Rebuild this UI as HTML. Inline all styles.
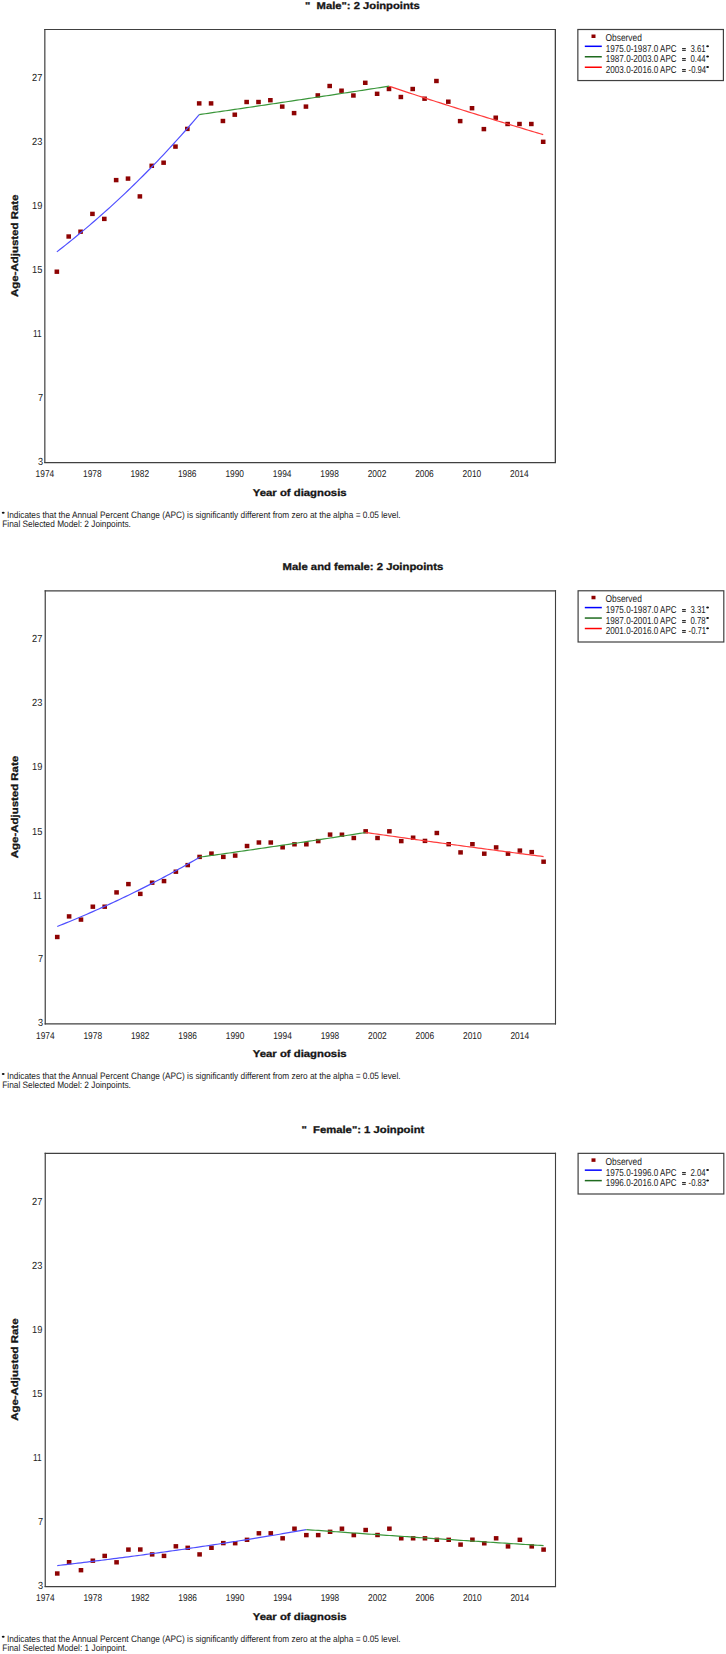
<!DOCTYPE html>
<html><head><meta charset="utf-8"><style>
html,body{margin:0;padding:0;background:#fff;}
body{width:726px;height:1654px;overflow:hidden;}
svg{display:block;font-family:"Liberation Sans",sans-serif;text-rendering:geometricPrecision;}
</style></head><body>
<svg width="726" height="1654" viewBox="0 0 726 1654">
<rect width="726" height="1654" fill="#fff"/>
<text x="305.00" y="8.70" font-size="10.0" textLength="114.80" lengthAdjust="spacingAndGlyphs" font-weight="bold" stroke="#151515" stroke-width="0.3" fill="#151515" style="white-space:pre">&quot;  Male&quot;: 2 Joinpoints</text>
<path d="M44.83 28.93V463.12" stroke="#404040" stroke-width="1.2"/>
<path d="M555.35 28.93V463.12" stroke="#404040" stroke-width="1.3"/>
<path d="M44.23 29.50H556.00" stroke="#404040" stroke-width="1.15"/>
<path d="M44.23 462.55H556.00" stroke="#404040" stroke-width="1.15"/>
<text x="37.90" y="464.65" font-size="10.3" textLength="5.10" lengthAdjust="spacingAndGlyphs" fill="#222" style="white-space:pre">3</text>
<text x="37.90" y="401.05" font-size="10.3" textLength="5.10" lengthAdjust="spacingAndGlyphs" fill="#222" style="white-space:pre">7</text>
<text x="33.00" y="337.25" font-size="10.3" textLength="8.70" lengthAdjust="spacingAndGlyphs" fill="#222" style="white-space:pre">11</text>
<text x="32.10" y="273.35" font-size="10.3" textLength="10.30" lengthAdjust="spacingAndGlyphs" fill="#222" style="white-space:pre">15</text>
<text x="32.10" y="208.55" font-size="10.3" textLength="10.30" lengthAdjust="spacingAndGlyphs" fill="#222" style="white-space:pre">19</text>
<text x="32.10" y="144.55" font-size="10.3" textLength="10.30" lengthAdjust="spacingAndGlyphs" fill="#222" style="white-space:pre">23</text>
<text x="32.10" y="80.55" font-size="10.3" textLength="10.30" lengthAdjust="spacingAndGlyphs" fill="#222" style="white-space:pre">27</text>
<text x="35.59" y="477.35" font-size="9.9" textLength="18.60" lengthAdjust="spacingAndGlyphs" fill="#222" style="white-space:pre">1974</text>
<text x="83.04" y="477.35" font-size="9.9" textLength="18.60" lengthAdjust="spacingAndGlyphs" fill="#222" style="white-space:pre">1978</text>
<text x="130.48" y="477.35" font-size="9.9" textLength="18.60" lengthAdjust="spacingAndGlyphs" fill="#222" style="white-space:pre">1982</text>
<text x="177.93" y="477.35" font-size="9.9" textLength="18.60" lengthAdjust="spacingAndGlyphs" fill="#222" style="white-space:pre">1986</text>
<text x="225.38" y="477.35" font-size="9.9" textLength="18.60" lengthAdjust="spacingAndGlyphs" fill="#222" style="white-space:pre">1990</text>
<text x="272.83" y="477.35" font-size="9.9" textLength="18.60" lengthAdjust="spacingAndGlyphs" fill="#222" style="white-space:pre">1994</text>
<text x="320.28" y="477.35" font-size="9.9" textLength="18.60" lengthAdjust="spacingAndGlyphs" fill="#222" style="white-space:pre">1998</text>
<text x="367.72" y="477.35" font-size="9.9" textLength="18.60" lengthAdjust="spacingAndGlyphs" fill="#222" style="white-space:pre">2002</text>
<text x="415.17" y="477.35" font-size="9.9" textLength="18.60" lengthAdjust="spacingAndGlyphs" fill="#222" style="white-space:pre">2006</text>
<text x="462.62" y="477.35" font-size="9.9" textLength="18.60" lengthAdjust="spacingAndGlyphs" fill="#222" style="white-space:pre">2010</text>
<text x="510.07" y="477.35" font-size="9.9" textLength="18.60" lengthAdjust="spacingAndGlyphs" fill="#222" style="white-space:pre">2014</text>
<text x="252.80" y="495.95" font-size="9.9" textLength="93.80" lengthAdjust="spacingAndGlyphs" font-weight="bold" stroke="#151515" stroke-width="0.3" fill="#151515" style="white-space:pre">Year of diagnosis</text>
<text transform="translate(18.10,296.93) rotate(-90)" x="-0.00" y="0" font-size="9.8" textLength="102.40" lengthAdjust="spacingAndGlyphs" font-weight="bold" stroke="#151515" stroke-width="0.3" fill="#151515">Age-Adjusted Rate</text>
<rect x="54.55" y="269.50" width="4.6" height="4.4" fill="#8e0303"/>
<rect x="66.41" y="234.30" width="4.6" height="4.4" fill="#8e0303"/>
<rect x="78.27" y="229.50" width="4.6" height="4.4" fill="#8e0303"/>
<rect x="90.14" y="211.70" width="4.6" height="4.4" fill="#8e0303"/>
<rect x="102.00" y="216.70" width="4.6" height="4.4" fill="#8e0303"/>
<rect x="113.86" y="177.90" width="4.6" height="4.4" fill="#8e0303"/>
<rect x="125.72" y="176.40" width="4.6" height="4.4" fill="#8e0303"/>
<rect x="137.58" y="194.20" width="4.6" height="4.4" fill="#8e0303"/>
<rect x="149.45" y="163.60" width="4.6" height="4.4" fill="#8e0303"/>
<rect x="161.31" y="160.50" width="4.6" height="4.4" fill="#8e0303"/>
<rect x="173.17" y="144.40" width="4.6" height="4.4" fill="#8e0303"/>
<rect x="185.03" y="126.70" width="4.6" height="4.4" fill="#8e0303"/>
<rect x="196.89" y="101.20" width="4.6" height="4.4" fill="#8e0303"/>
<rect x="208.76" y="101.20" width="4.6" height="4.4" fill="#8e0303"/>
<rect x="220.62" y="118.80" width="4.6" height="4.4" fill="#8e0303"/>
<rect x="232.48" y="112.50" width="4.6" height="4.4" fill="#8e0303"/>
<rect x="244.34" y="99.80" width="4.6" height="4.4" fill="#8e0303"/>
<rect x="256.20" y="99.80" width="4.6" height="4.4" fill="#8e0303"/>
<rect x="268.07" y="98.00" width="4.6" height="4.4" fill="#8e0303"/>
<rect x="279.93" y="104.40" width="4.6" height="4.4" fill="#8e0303"/>
<rect x="291.79" y="110.90" width="4.6" height="4.4" fill="#8e0303"/>
<rect x="303.65" y="104.40" width="4.6" height="4.4" fill="#8e0303"/>
<rect x="315.51" y="93.20" width="4.6" height="4.4" fill="#8e0303"/>
<rect x="327.38" y="83.80" width="4.6" height="4.4" fill="#8e0303"/>
<rect x="339.24" y="88.50" width="4.6" height="4.4" fill="#8e0303"/>
<rect x="351.10" y="93.30" width="4.6" height="4.4" fill="#8e0303"/>
<rect x="362.96" y="80.60" width="4.6" height="4.4" fill="#8e0303"/>
<rect x="374.82" y="91.60" width="4.6" height="4.4" fill="#8e0303"/>
<rect x="386.69" y="86.80" width="4.6" height="4.4" fill="#8e0303"/>
<rect x="398.55" y="94.80" width="4.6" height="4.4" fill="#8e0303"/>
<rect x="410.41" y="86.80" width="4.6" height="4.4" fill="#8e0303"/>
<rect x="422.27" y="96.50" width="4.6" height="4.4" fill="#8e0303"/>
<rect x="434.13" y="78.80" width="4.6" height="4.4" fill="#8e0303"/>
<rect x="446.00" y="99.50" width="4.6" height="4.4" fill="#8e0303"/>
<rect x="457.86" y="118.90" width="4.6" height="4.4" fill="#8e0303"/>
<rect x="469.72" y="106.00" width="4.6" height="4.4" fill="#8e0303"/>
<rect x="481.58" y="126.90" width="4.6" height="4.4" fill="#8e0303"/>
<rect x="493.44" y="115.50" width="4.6" height="4.4" fill="#8e0303"/>
<rect x="505.31" y="121.80" width="4.6" height="4.4" fill="#8e0303"/>
<rect x="517.17" y="121.80" width="4.6" height="4.4" fill="#8e0303"/>
<rect x="529.03" y="121.80" width="4.6" height="4.4" fill="#8e0303"/>
<rect x="540.89" y="139.60" width="4.6" height="4.4" fill="#8e0303"/>
<polyline points="56.85,251.85 59.82,249.55 62.78,247.22 65.75,244.88 68.71,242.51 71.68,240.12 74.64,237.71 77.61,235.28 80.57,232.83 83.54,230.36 86.50,227.86 89.47,225.34 92.44,222.80 95.40,220.24 98.37,217.65 101.33,215.05 104.30,212.41 107.26,209.76 110.23,207.08 113.19,204.38 116.16,201.65 119.13,198.90 122.09,196.12 125.06,193.32 128.02,190.50 130.99,187.65 133.95,184.77 136.92,181.87 139.88,178.94 142.85,175.99 145.81,173.01 148.78,170.00 151.75,166.97 154.71,163.91 157.68,160.82 160.64,157.71 163.61,154.56 166.57,151.39 169.54,148.20 172.50,144.97 175.47,141.71 178.44,138.43 181.40,135.11 184.37,131.77 187.33,128.40 190.30,124.99 193.26,121.56 196.23,118.10 199.19,114.60" fill="none" stroke="#4f4fff" stroke-width="1.2"/>
<polyline points="199.19,114.60 202.16,114.17 205.12,113.74 208.09,113.31 211.06,112.88 214.02,112.45 216.99,112.02 219.95,111.59 222.92,111.16 225.88,110.72 228.85,110.29 231.81,109.86 234.78,109.42 237.75,108.99 240.71,108.55 243.68,108.12 246.64,107.68 249.61,107.25 252.57,106.81 255.54,106.37 258.50,105.94 261.47,105.50 264.44,105.06 267.40,104.62 270.37,104.18 273.33,103.74 276.30,103.30 279.26,102.86 282.23,102.42 285.19,101.97 288.16,101.53 291.12,101.09 294.09,100.65 297.06,100.20 300.02,99.76 302.99,99.31 305.95,98.87 308.92,98.42 311.88,97.98 314.85,97.53 317.81,97.08 320.78,96.63 323.75,96.19 326.71,95.74 329.68,95.29 332.64,94.84 335.61,94.39 338.57,93.94 341.54,93.49 344.50,93.03 347.47,92.58 350.43,92.13 353.40,91.68 356.37,91.22 359.33,90.77 362.30,90.31 365.26,89.86 368.23,89.40 371.19,88.95 374.16,88.49 377.12,88.03 380.09,87.58 383.06,87.12 386.02,86.66 388.99,86.20" fill="none" stroke="#3a963a" stroke-width="1.2"/>
<polyline points="388.99,86.20 391.95,87.19 394.92,88.17 397.88,89.15 400.85,90.13 403.81,91.11 406.78,92.09 409.74,93.06 412.71,94.03 415.68,95.00 418.64,95.97 421.61,96.93 424.57,97.89 427.54,98.85 430.50,99.81 433.47,100.77 436.43,101.72 439.40,102.67 442.37,103.62 445.33,104.57 448.30,105.51 451.26,106.45 454.23,107.39 457.19,108.33 460.16,109.27 463.12,110.20 466.09,111.13 469.05,112.06 472.02,112.99 474.99,113.91 477.95,114.84 480.92,115.76 483.88,116.67 486.85,117.59 489.81,118.50 492.78,119.42 495.74,120.33 498.71,121.23 501.68,122.14 504.64,123.04 507.61,123.95 510.57,124.84 513.54,125.74 516.50,126.64 519.47,127.53 522.43,128.42 525.40,129.31 528.36,130.20 531.33,131.08 534.30,131.96 537.26,132.84 540.23,133.72 543.19,134.60" fill="none" stroke="#ff3c3c" stroke-width="1.2"/>
<rect x="577.85" y="29.50" width="145.55" height="51.05" fill="none" stroke="#404040" stroke-width="1.2"/>
<rect x="591.5" y="34.50" width="4" height="3.5" fill="#8f0000"/>
<text x="605.50" y="40.80" font-size="10.1" textLength="36.40" lengthAdjust="spacingAndGlyphs" fill="#222" style="white-space:pre">Observed</text>
<line x1="584.8" y1="46.30" x2="601.8" y2="46.30" stroke="#0000ff" stroke-width="1.5"/>
<text x="605.80" y="51.95" font-size="10.1" textLength="52.40" lengthAdjust="spacingAndGlyphs" fill="#222" style="white-space:pre">1975.0-1987.0</text>
<text x="660.10" y="51.95" font-size="10.1" textLength="16.30" lengthAdjust="spacingAndGlyphs" fill="#222" style="white-space:pre">APC</text>
<rect x="682.1" y="48.00" width="3.7" height="1.1" fill="#2a2a2a"/><rect x="682.1" y="49.80" width="3.7" height="1.1" fill="#2a2a2a"/>
<text x="690.40" y="51.95" font-size="10.1" textLength="15.20" lengthAdjust="spacingAndGlyphs" fill="#222" style="white-space:pre">3.61</text>
<ellipse cx="707.6" cy="46.15" rx="1.4" ry="1.0" fill="#111"/>
<line x1="584.8" y1="56.77" x2="601.8" y2="56.77" stroke="#1f6b1f" stroke-width="1.5"/>
<text x="605.80" y="62.42" font-size="10.1" textLength="52.40" lengthAdjust="spacingAndGlyphs" fill="#222" style="white-space:pre">1987.0-2003.0</text>
<text x="660.10" y="62.42" font-size="10.1" textLength="16.30" lengthAdjust="spacingAndGlyphs" fill="#222" style="white-space:pre">APC</text>
<rect x="682.1" y="58.00" width="3.7" height="1.1" fill="#2a2a2a"/><rect x="682.1" y="59.80" width="3.7" height="1.1" fill="#2a2a2a"/>
<text x="690.40" y="62.42" font-size="10.1" textLength="15.20" lengthAdjust="spacingAndGlyphs" fill="#222" style="white-space:pre">0.44</text>
<ellipse cx="707.6" cy="56.62" rx="1.4" ry="1.0" fill="#111"/>
<line x1="584.8" y1="67.24" x2="601.8" y2="67.24" stroke="#ff0000" stroke-width="1.5"/>
<text x="605.80" y="72.89" font-size="10.1" textLength="52.40" lengthAdjust="spacingAndGlyphs" fill="#222" style="white-space:pre">2003.0-2016.0</text>
<text x="660.10" y="72.89" font-size="10.1" textLength="16.30" lengthAdjust="spacingAndGlyphs" fill="#222" style="white-space:pre">APC</text>
<rect x="682.1" y="69.00" width="3.7" height="1.1" fill="#2a2a2a"/><rect x="682.1" y="70.80" width="3.7" height="1.1" fill="#2a2a2a"/>
<text x="688.60" y="72.89" font-size="10.1" textLength="17.50" lengthAdjust="spacingAndGlyphs" fill="#222" style="white-space:pre">-0.94</text>
<ellipse cx="707.6" cy="67.09" rx="1.4" ry="1.0" fill="#111"/>
<ellipse cx="3.2" cy="512.65" rx="1.45" ry="1.0" fill="#111"/>
<text x="6.90" y="517.75" font-size="9.3" textLength="393.70" lengthAdjust="spacingAndGlyphs" fill="#222" style="white-space:pre">Indicates that the Annual Percent Change (APC) is significantly different from zero at the alpha = 0.05 level.</text>
<text x="2.30" y="526.50" font-size="9.3" textLength="128.60" lengthAdjust="spacingAndGlyphs" fill="#222" style="white-space:pre">Final Selected Model: 2 Joinpoints.</text>
<text x="282.60" y="569.98" font-size="10.0" textLength="160.70" lengthAdjust="spacingAndGlyphs" font-weight="bold" stroke="#151515" stroke-width="0.3" fill="#151515" style="white-space:pre">Male and female: 2 Joinpoints</text>
<path d="M45.24 590.15V1024.47" stroke="#404040" stroke-width="1.2"/>
<path d="M555.50 590.15V1024.47" stroke="#404040" stroke-width="1.1"/>
<path d="M44.64 590.78H556.05" stroke="#404040" stroke-width="1.25"/>
<path d="M44.64 1023.87H556.05" stroke="#404040" stroke-width="1.2"/>
<text x="37.90" y="1025.97" font-size="10.3" textLength="5.10" lengthAdjust="spacingAndGlyphs" fill="#222" style="white-space:pre">3</text>
<text x="37.90" y="962.37" font-size="10.3" textLength="5.10" lengthAdjust="spacingAndGlyphs" fill="#222" style="white-space:pre">7</text>
<text x="33.00" y="898.57" font-size="10.3" textLength="8.70" lengthAdjust="spacingAndGlyphs" fill="#222" style="white-space:pre">11</text>
<text x="32.10" y="834.67" font-size="10.3" textLength="10.30" lengthAdjust="spacingAndGlyphs" fill="#222" style="white-space:pre">15</text>
<text x="32.10" y="769.87" font-size="10.3" textLength="10.30" lengthAdjust="spacingAndGlyphs" fill="#222" style="white-space:pre">19</text>
<text x="32.10" y="705.87" font-size="10.3" textLength="10.30" lengthAdjust="spacingAndGlyphs" fill="#222" style="white-space:pre">23</text>
<text x="32.10" y="641.87" font-size="10.3" textLength="10.30" lengthAdjust="spacingAndGlyphs" fill="#222" style="white-space:pre">27</text>
<text x="35.99" y="1038.67" font-size="9.9" textLength="18.60" lengthAdjust="spacingAndGlyphs" fill="#222" style="white-space:pre">1974</text>
<text x="83.44" y="1038.67" font-size="9.9" textLength="18.60" lengthAdjust="spacingAndGlyphs" fill="#222" style="white-space:pre">1978</text>
<text x="130.88" y="1038.67" font-size="9.9" textLength="18.60" lengthAdjust="spacingAndGlyphs" fill="#222" style="white-space:pre">1982</text>
<text x="178.33" y="1038.67" font-size="9.9" textLength="18.60" lengthAdjust="spacingAndGlyphs" fill="#222" style="white-space:pre">1986</text>
<text x="225.78" y="1038.67" font-size="9.9" textLength="18.60" lengthAdjust="spacingAndGlyphs" fill="#222" style="white-space:pre">1990</text>
<text x="273.23" y="1038.67" font-size="9.9" textLength="18.60" lengthAdjust="spacingAndGlyphs" fill="#222" style="white-space:pre">1994</text>
<text x="320.68" y="1038.67" font-size="9.9" textLength="18.60" lengthAdjust="spacingAndGlyphs" fill="#222" style="white-space:pre">1998</text>
<text x="368.12" y="1038.67" font-size="9.9" textLength="18.60" lengthAdjust="spacingAndGlyphs" fill="#222" style="white-space:pre">2002</text>
<text x="415.57" y="1038.67" font-size="9.9" textLength="18.60" lengthAdjust="spacingAndGlyphs" fill="#222" style="white-space:pre">2006</text>
<text x="463.02" y="1038.67" font-size="9.9" textLength="18.60" lengthAdjust="spacingAndGlyphs" fill="#222" style="white-space:pre">2010</text>
<text x="510.47" y="1038.67" font-size="9.9" textLength="18.60" lengthAdjust="spacingAndGlyphs" fill="#222" style="white-space:pre">2014</text>
<text x="252.80" y="1057.27" font-size="9.9" textLength="93.80" lengthAdjust="spacingAndGlyphs" font-weight="bold" stroke="#151515" stroke-width="0.3" fill="#151515" style="white-space:pre">Year of diagnosis</text>
<text transform="translate(18.10,858.23) rotate(-90)" x="-0.00" y="0" font-size="9.8" textLength="102.40" lengthAdjust="spacingAndGlyphs" font-weight="bold" stroke="#151515" stroke-width="0.3" fill="#151515">Age-Adjusted Rate</text>
<rect x="54.95" y="934.80" width="4.6" height="4.4" fill="#8e0303"/>
<rect x="66.81" y="914.20" width="4.6" height="4.4" fill="#8e0303"/>
<rect x="78.67" y="917.40" width="4.6" height="4.4" fill="#8e0303"/>
<rect x="90.54" y="904.50" width="4.6" height="4.4" fill="#8e0303"/>
<rect x="102.40" y="904.50" width="4.6" height="4.4" fill="#8e0303"/>
<rect x="114.26" y="890.20" width="4.6" height="4.4" fill="#8e0303"/>
<rect x="126.12" y="881.90" width="4.6" height="4.4" fill="#8e0303"/>
<rect x="137.98" y="891.70" width="4.6" height="4.4" fill="#8e0303"/>
<rect x="149.85" y="880.50" width="4.6" height="4.4" fill="#8e0303"/>
<rect x="161.71" y="878.90" width="4.6" height="4.4" fill="#8e0303"/>
<rect x="173.57" y="869.50" width="4.6" height="4.4" fill="#8e0303"/>
<rect x="185.43" y="862.90" width="4.6" height="4.4" fill="#8e0303"/>
<rect x="197.29" y="854.70" width="4.6" height="4.4" fill="#8e0303"/>
<rect x="209.16" y="851.40" width="4.6" height="4.4" fill="#8e0303"/>
<rect x="221.02" y="854.70" width="4.6" height="4.4" fill="#8e0303"/>
<rect x="232.88" y="853.40" width="4.6" height="4.4" fill="#8e0303"/>
<rect x="244.74" y="843.80" width="4.6" height="4.4" fill="#8e0303"/>
<rect x="256.60" y="840.30" width="4.6" height="4.4" fill="#8e0303"/>
<rect x="268.47" y="840.30" width="4.6" height="4.4" fill="#8e0303"/>
<rect x="280.33" y="845.10" width="4.6" height="4.4" fill="#8e0303"/>
<rect x="292.19" y="842.10" width="4.6" height="4.4" fill="#8e0303"/>
<rect x="304.05" y="842.10" width="4.6" height="4.4" fill="#8e0303"/>
<rect x="315.91" y="838.90" width="4.6" height="4.4" fill="#8e0303"/>
<rect x="327.78" y="832.40" width="4.6" height="4.4" fill="#8e0303"/>
<rect x="339.64" y="832.50" width="4.6" height="4.4" fill="#8e0303"/>
<rect x="351.50" y="835.80" width="4.6" height="4.4" fill="#8e0303"/>
<rect x="363.36" y="829.10" width="4.6" height="4.4" fill="#8e0303"/>
<rect x="375.22" y="835.80" width="4.6" height="4.4" fill="#8e0303"/>
<rect x="387.09" y="829.10" width="4.6" height="4.4" fill="#8e0303"/>
<rect x="398.95" y="838.90" width="4.6" height="4.4" fill="#8e0303"/>
<rect x="410.81" y="835.50" width="4.6" height="4.4" fill="#8e0303"/>
<rect x="422.67" y="838.70" width="4.6" height="4.4" fill="#8e0303"/>
<rect x="434.53" y="830.80" width="4.6" height="4.4" fill="#8e0303"/>
<rect x="446.40" y="842.00" width="4.6" height="4.4" fill="#8e0303"/>
<rect x="458.26" y="850.20" width="4.6" height="4.4" fill="#8e0303"/>
<rect x="470.12" y="842.00" width="4.6" height="4.4" fill="#8e0303"/>
<rect x="481.98" y="851.50" width="4.6" height="4.4" fill="#8e0303"/>
<rect x="493.84" y="845.20" width="4.6" height="4.4" fill="#8e0303"/>
<rect x="505.71" y="851.50" width="4.6" height="4.4" fill="#8e0303"/>
<rect x="517.57" y="848.40" width="4.6" height="4.4" fill="#8e0303"/>
<rect x="529.43" y="849.90" width="4.6" height="4.4" fill="#8e0303"/>
<rect x="541.29" y="859.50" width="4.6" height="4.4" fill="#8e0303"/>
<polyline points="57.25,926.50 60.22,925.31 63.18,924.12 66.15,922.91 69.11,921.70 72.08,920.47 75.04,919.24 78.01,918.00 80.97,916.74 83.94,915.48 86.91,914.20 89.87,912.91 92.84,911.62 95.80,910.31 98.77,908.99 101.73,907.67 104.70,906.33 107.66,904.98 110.63,903.62 113.59,902.24 116.56,900.86 119.53,899.47 122.49,898.06 125.46,896.64 128.42,895.21 131.39,893.77 134.35,892.32 137.32,890.86 140.28,889.38 143.25,887.89 146.22,886.39 149.18,884.88 152.15,883.36 155.11,881.82 158.08,880.27 161.04,878.71 164.01,877.13 166.97,875.54 169.94,873.94 172.90,872.33 175.87,870.70 178.84,869.06 181.80,867.41 184.77,865.74 187.73,864.06 190.70,862.37 193.66,860.66 196.63,858.94 199.59,857.20" fill="none" stroke="#4f4fff" stroke-width="1.2"/>
<polyline points="199.59,857.20 202.56,856.78 205.53,856.36 208.49,855.94 211.46,855.52 214.42,855.10 217.39,854.68 220.35,854.26 223.32,853.83 226.28,853.41 229.25,852.98 232.21,852.56 235.18,852.13 238.15,851.70 241.11,851.27 244.08,850.85 247.04,850.42 250.01,849.98 252.97,849.55 255.94,849.12 258.90,848.69 261.87,848.25 264.84,847.82 267.80,847.38 270.77,846.94 273.73,846.50 276.70,846.07 279.66,845.63 282.63,845.19 285.59,844.74 288.56,844.30 291.52,843.86 294.49,843.42 297.46,842.97 300.42,842.53 303.39,842.08 306.35,841.63 309.32,841.18 312.28,840.73 315.25,840.28 318.21,839.83 321.18,839.38 324.14,838.93 327.11,838.48 330.08,838.02 333.04,837.57 336.01,837.11 338.97,836.65 341.94,836.20 344.90,835.74 347.87,835.28 350.83,834.82 353.80,834.35 356.77,833.89 359.73,833.43 362.70,832.97 365.66,832.50" fill="none" stroke="#3a963a" stroke-width="1.2"/>
<polyline points="365.66,832.50 368.63,832.92 371.59,833.35 374.56,833.77 377.52,834.19 380.49,834.61 383.45,835.03 386.42,835.45 389.39,835.86 392.35,836.28 395.32,836.70 398.28,837.11 401.25,837.53 404.21,837.94 407.18,838.35 410.14,838.77 413.11,839.18 416.08,839.59 419.04,840.00 422.01,840.41 424.97,840.82 427.94,841.23 430.90,841.63 433.87,842.04 436.83,842.45 439.80,842.85 442.76,843.26 445.73,843.66 448.70,844.07 451.66,844.47 454.63,844.87 457.59,845.27 460.56,845.67 463.52,846.07 466.49,846.47 469.45,846.87 472.42,847.27 475.39,847.66 478.35,848.06 481.32,848.45 484.28,848.85 487.25,849.24 490.21,849.64 493.18,850.03 496.14,850.42 499.11,850.81 502.07,851.20 505.04,851.59 508.01,851.98 510.97,852.37 513.94,852.76 516.90,853.15 519.87,853.53 522.83,853.92 525.80,854.30 528.76,854.69 531.73,855.07 534.70,855.45 537.66,855.84 540.63,856.22 543.59,856.60" fill="none" stroke="#ff3c3c" stroke-width="1.2"/>
<rect x="578.10" y="590.78" width="145.70" height="51.22" fill="none" stroke="#404040" stroke-width="1.2"/>
<rect x="591.5" y="595.78" width="4" height="3.5" fill="#8f0000"/>
<text x="605.50" y="602.08" font-size="10.1" textLength="36.40" lengthAdjust="spacingAndGlyphs" fill="#222" style="white-space:pre">Observed</text>
<line x1="584.8" y1="607.58" x2="601.8" y2="607.58" stroke="#0000ff" stroke-width="1.5"/>
<text x="605.80" y="613.23" font-size="10.1" textLength="52.40" lengthAdjust="spacingAndGlyphs" fill="#222" style="white-space:pre">1975.0-1987.0</text>
<text x="660.10" y="613.23" font-size="10.1" textLength="16.30" lengthAdjust="spacingAndGlyphs" fill="#222" style="white-space:pre">APC</text>
<rect x="682.1" y="609.00" width="3.7" height="1.1" fill="#2a2a2a"/><rect x="682.1" y="610.80" width="3.7" height="1.1" fill="#2a2a2a"/>
<text x="690.40" y="613.23" font-size="10.1" textLength="15.20" lengthAdjust="spacingAndGlyphs" fill="#222" style="white-space:pre">3.31</text>
<ellipse cx="707.6" cy="607.43" rx="1.4" ry="1.0" fill="#111"/>
<line x1="584.8" y1="618.05" x2="601.8" y2="618.05" stroke="#1f6b1f" stroke-width="1.5"/>
<text x="605.80" y="623.70" font-size="10.1" textLength="52.40" lengthAdjust="spacingAndGlyphs" fill="#222" style="white-space:pre">1987.0-2001.0</text>
<text x="660.10" y="623.70" font-size="10.1" textLength="16.30" lengthAdjust="spacingAndGlyphs" fill="#222" style="white-space:pre">APC</text>
<rect x="682.1" y="620.00" width="3.7" height="1.1" fill="#2a2a2a"/><rect x="682.1" y="621.80" width="3.7" height="1.1" fill="#2a2a2a"/>
<text x="690.40" y="623.70" font-size="10.1" textLength="15.20" lengthAdjust="spacingAndGlyphs" fill="#222" style="white-space:pre">0.78</text>
<ellipse cx="707.6" cy="617.90" rx="1.4" ry="1.0" fill="#111"/>
<line x1="584.8" y1="628.52" x2="601.8" y2="628.52" stroke="#ff0000" stroke-width="1.5"/>
<text x="605.80" y="634.17" font-size="10.1" textLength="52.40" lengthAdjust="spacingAndGlyphs" fill="#222" style="white-space:pre">2001.0-2016.0</text>
<text x="660.10" y="634.17" font-size="10.1" textLength="16.30" lengthAdjust="spacingAndGlyphs" fill="#222" style="white-space:pre">APC</text>
<rect x="682.1" y="630.00" width="3.7" height="1.1" fill="#2a2a2a"/><rect x="682.1" y="631.80" width="3.7" height="1.1" fill="#2a2a2a"/>
<text x="688.60" y="634.17" font-size="10.1" textLength="17.50" lengthAdjust="spacingAndGlyphs" fill="#222" style="white-space:pre">-0.71</text>
<ellipse cx="707.6" cy="628.37" rx="1.4" ry="1.0" fill="#111"/>
<ellipse cx="3.2" cy="1073.97" rx="1.45" ry="1.0" fill="#111"/>
<text x="6.90" y="1079.07" font-size="9.3" textLength="393.70" lengthAdjust="spacingAndGlyphs" fill="#222" style="white-space:pre">Indicates that the Annual Percent Change (APC) is significantly different from zero at the alpha = 0.05 level.</text>
<text x="2.30" y="1087.82" font-size="9.3" textLength="128.60" lengthAdjust="spacingAndGlyphs" fill="#222" style="white-space:pre">Final Selected Model: 2 Joinpoints.</text>
<text x="301.40" y="1132.55" font-size="10.0" textLength="122.90" lengthAdjust="spacingAndGlyphs" font-weight="bold" stroke="#151515" stroke-width="0.3" fill="#151515" style="white-space:pre">&quot;  Female&quot;: 1 Joinpoint</text>
<path d="M45.24 1152.72V1587.12" stroke="#404040" stroke-width="1.2"/>
<path d="M555.50 1152.72V1587.12" stroke="#404040" stroke-width="1.1"/>
<path d="M44.64 1153.35H556.05" stroke="#404040" stroke-width="1.25"/>
<path d="M44.64 1586.55H556.05" stroke="#404040" stroke-width="1.15"/>
<text x="37.90" y="1588.65" font-size="10.3" textLength="5.10" lengthAdjust="spacingAndGlyphs" fill="#222" style="white-space:pre">3</text>
<text x="37.90" y="1525.05" font-size="10.3" textLength="5.10" lengthAdjust="spacingAndGlyphs" fill="#222" style="white-space:pre">7</text>
<text x="33.00" y="1461.25" font-size="10.3" textLength="8.70" lengthAdjust="spacingAndGlyphs" fill="#222" style="white-space:pre">11</text>
<text x="32.10" y="1397.35" font-size="10.3" textLength="10.30" lengthAdjust="spacingAndGlyphs" fill="#222" style="white-space:pre">15</text>
<text x="32.10" y="1332.55" font-size="10.3" textLength="10.30" lengthAdjust="spacingAndGlyphs" fill="#222" style="white-space:pre">19</text>
<text x="32.10" y="1268.55" font-size="10.3" textLength="10.30" lengthAdjust="spacingAndGlyphs" fill="#222" style="white-space:pre">23</text>
<text x="32.10" y="1204.55" font-size="10.3" textLength="10.30" lengthAdjust="spacingAndGlyphs" fill="#222" style="white-space:pre">27</text>
<text x="35.99" y="1601.35" font-size="9.9" textLength="18.60" lengthAdjust="spacingAndGlyphs" fill="#222" style="white-space:pre">1974</text>
<text x="83.44" y="1601.35" font-size="9.9" textLength="18.60" lengthAdjust="spacingAndGlyphs" fill="#222" style="white-space:pre">1978</text>
<text x="130.88" y="1601.35" font-size="9.9" textLength="18.60" lengthAdjust="spacingAndGlyphs" fill="#222" style="white-space:pre">1982</text>
<text x="178.33" y="1601.35" font-size="9.9" textLength="18.60" lengthAdjust="spacingAndGlyphs" fill="#222" style="white-space:pre">1986</text>
<text x="225.78" y="1601.35" font-size="9.9" textLength="18.60" lengthAdjust="spacingAndGlyphs" fill="#222" style="white-space:pre">1990</text>
<text x="273.23" y="1601.35" font-size="9.9" textLength="18.60" lengthAdjust="spacingAndGlyphs" fill="#222" style="white-space:pre">1994</text>
<text x="320.68" y="1601.35" font-size="9.9" textLength="18.60" lengthAdjust="spacingAndGlyphs" fill="#222" style="white-space:pre">1998</text>
<text x="368.12" y="1601.35" font-size="9.9" textLength="18.60" lengthAdjust="spacingAndGlyphs" fill="#222" style="white-space:pre">2002</text>
<text x="415.57" y="1601.35" font-size="9.9" textLength="18.60" lengthAdjust="spacingAndGlyphs" fill="#222" style="white-space:pre">2006</text>
<text x="463.02" y="1601.35" font-size="9.9" textLength="18.60" lengthAdjust="spacingAndGlyphs" fill="#222" style="white-space:pre">2010</text>
<text x="510.47" y="1601.35" font-size="9.9" textLength="18.60" lengthAdjust="spacingAndGlyphs" fill="#222" style="white-space:pre">2014</text>
<text x="252.80" y="1619.95" font-size="9.9" textLength="93.80" lengthAdjust="spacingAndGlyphs" font-weight="bold" stroke="#151515" stroke-width="0.3" fill="#151515" style="white-space:pre">Year of diagnosis</text>
<text transform="translate(18.10,1420.85) rotate(-90)" x="-0.00" y="0" font-size="9.8" textLength="102.40" lengthAdjust="spacingAndGlyphs" font-weight="bold" stroke="#151515" stroke-width="0.3" fill="#151515">Age-Adjusted Rate</text>
<rect x="54.95" y="1571.30" width="4.6" height="4.4" fill="#8e0303"/>
<rect x="66.81" y="1560.00" width="4.6" height="4.4" fill="#8e0303"/>
<rect x="78.67" y="1568.00" width="4.6" height="4.4" fill="#8e0303"/>
<rect x="90.54" y="1558.50" width="4.6" height="4.4" fill="#8e0303"/>
<rect x="102.40" y="1553.70" width="4.6" height="4.4" fill="#8e0303"/>
<rect x="114.26" y="1560.10" width="4.6" height="4.4" fill="#8e0303"/>
<rect x="126.12" y="1547.40" width="4.6" height="4.4" fill="#8e0303"/>
<rect x="137.98" y="1547.30" width="4.6" height="4.4" fill="#8e0303"/>
<rect x="149.85" y="1552.20" width="4.6" height="4.4" fill="#8e0303"/>
<rect x="161.71" y="1553.70" width="4.6" height="4.4" fill="#8e0303"/>
<rect x="173.57" y="1544.10" width="4.6" height="4.4" fill="#8e0303"/>
<rect x="185.43" y="1545.60" width="4.6" height="4.4" fill="#8e0303"/>
<rect x="197.29" y="1552.20" width="4.6" height="4.4" fill="#8e0303"/>
<rect x="209.16" y="1545.60" width="4.6" height="4.4" fill="#8e0303"/>
<rect x="221.02" y="1540.90" width="4.6" height="4.4" fill="#8e0303"/>
<rect x="232.88" y="1541.00" width="4.6" height="4.4" fill="#8e0303"/>
<rect x="244.74" y="1537.60" width="4.6" height="4.4" fill="#8e0303"/>
<rect x="256.60" y="1531.10" width="4.6" height="4.4" fill="#8e0303"/>
<rect x="268.47" y="1531.10" width="4.6" height="4.4" fill="#8e0303"/>
<rect x="280.33" y="1536.10" width="4.6" height="4.4" fill="#8e0303"/>
<rect x="292.19" y="1526.50" width="4.6" height="4.4" fill="#8e0303"/>
<rect x="304.05" y="1532.90" width="4.6" height="4.4" fill="#8e0303"/>
<rect x="315.91" y="1532.90" width="4.6" height="4.4" fill="#8e0303"/>
<rect x="327.78" y="1529.60" width="4.6" height="4.4" fill="#8e0303"/>
<rect x="339.64" y="1526.50" width="4.6" height="4.4" fill="#8e0303"/>
<rect x="351.50" y="1532.90" width="4.6" height="4.4" fill="#8e0303"/>
<rect x="363.36" y="1527.80" width="4.6" height="4.4" fill="#8e0303"/>
<rect x="375.22" y="1532.80" width="4.6" height="4.4" fill="#8e0303"/>
<rect x="387.09" y="1526.50" width="4.6" height="4.4" fill="#8e0303"/>
<rect x="398.95" y="1536.10" width="4.6" height="4.4" fill="#8e0303"/>
<rect x="410.81" y="1536.10" width="4.6" height="4.4" fill="#8e0303"/>
<rect x="422.67" y="1536.10" width="4.6" height="4.4" fill="#8e0303"/>
<rect x="434.53" y="1537.60" width="4.6" height="4.4" fill="#8e0303"/>
<rect x="446.40" y="1537.60" width="4.6" height="4.4" fill="#8e0303"/>
<rect x="458.26" y="1542.40" width="4.6" height="4.4" fill="#8e0303"/>
<rect x="470.12" y="1537.50" width="4.6" height="4.4" fill="#8e0303"/>
<rect x="481.98" y="1541.10" width="4.6" height="4.4" fill="#8e0303"/>
<rect x="493.84" y="1536.10" width="4.6" height="4.4" fill="#8e0303"/>
<rect x="505.71" y="1544.20" width="4.6" height="4.4" fill="#8e0303"/>
<rect x="517.57" y="1537.60" width="4.6" height="4.4" fill="#8e0303"/>
<rect x="529.43" y="1544.20" width="4.6" height="4.4" fill="#8e0303"/>
<rect x="541.29" y="1547.40" width="4.6" height="4.4" fill="#8e0303"/>
<polyline points="57.25,1565.60 60.22,1565.25 63.18,1564.91 66.15,1564.56 69.11,1564.21 72.08,1563.85 75.04,1563.50 78.01,1563.14 80.97,1562.78 83.94,1562.42 86.91,1562.06 89.87,1561.70 92.84,1561.33 95.80,1560.97 98.77,1560.60 101.73,1560.23 104.70,1559.85 107.66,1559.48 110.63,1559.10 113.59,1558.72 116.56,1558.34 119.53,1557.96 122.49,1557.58 125.46,1557.19 128.42,1556.80 131.39,1556.41 134.35,1556.02 137.32,1555.63 140.28,1555.23 143.25,1554.84 146.22,1554.44 149.18,1554.03 152.15,1553.63 155.11,1553.22 158.08,1552.82 161.04,1552.41 164.01,1552.00 166.97,1551.58 169.94,1551.17 172.90,1550.75 175.87,1550.33 178.84,1549.90 181.80,1549.48 184.77,1549.05 187.73,1548.63 190.70,1548.19 193.66,1547.76 196.63,1547.33 199.59,1546.89 202.56,1546.45 205.53,1546.01 208.49,1545.56 211.46,1545.12 214.42,1544.67 217.39,1544.22 220.35,1543.77 223.32,1543.31 226.28,1542.85 229.25,1542.39 232.21,1541.93 235.18,1541.47 238.15,1541.00 241.11,1540.53 244.08,1540.06 247.04,1539.59 250.01,1539.11 252.97,1538.63 255.94,1538.15 258.90,1537.67 261.87,1537.18 264.84,1536.70 267.80,1536.20 270.77,1535.71 273.73,1535.22 276.70,1534.72 279.66,1534.22 282.63,1533.71 285.59,1533.21 288.56,1532.70 291.52,1532.19 294.49,1531.68 297.46,1531.16 300.42,1530.64 303.39,1530.12 306.35,1529.60" fill="none" stroke="#4f4fff" stroke-width="1.2"/>
<polyline points="306.35,1529.60 309.32,1529.82 312.28,1530.03 315.25,1530.25 318.21,1530.46 321.18,1530.68 324.14,1530.89 327.11,1531.11 330.08,1531.32 333.04,1531.53 336.01,1531.75 338.97,1531.96 341.94,1532.17 344.90,1532.38 347.87,1532.59 350.83,1532.80 353.80,1533.01 356.77,1533.22 359.73,1533.43 362.70,1533.64 365.66,1533.85 368.63,1534.06 371.59,1534.27 374.56,1534.47 377.52,1534.68 380.49,1534.89 383.45,1535.09 386.42,1535.30 389.39,1535.50 392.35,1535.71 395.32,1535.91 398.28,1536.12 401.25,1536.32 404.21,1536.52 407.18,1536.72 410.14,1536.93 413.11,1537.13 416.08,1537.33 419.04,1537.53 422.01,1537.73 424.97,1537.93 427.94,1538.13 430.90,1538.33 433.87,1538.53 436.83,1538.73 439.80,1538.92 442.76,1539.12 445.73,1539.32 448.70,1539.52 451.66,1539.71 454.63,1539.91 457.59,1540.10 460.56,1540.30 463.52,1540.49 466.49,1540.69 469.45,1540.88 472.42,1541.07 475.39,1541.27 478.35,1541.46 481.32,1541.65 484.28,1541.84 487.25,1542.04 490.21,1542.23 493.18,1542.42 496.14,1542.61 499.11,1542.80 502.07,1542.99 505.04,1543.18 508.01,1543.37 510.97,1543.55 513.94,1543.74 516.90,1543.93 519.87,1544.12 522.83,1544.30 525.80,1544.49 528.76,1544.68 531.73,1544.86 534.70,1545.05 537.66,1545.23 540.63,1545.42 543.59,1545.60" fill="none" stroke="#3a963a" stroke-width="1.2"/>
<rect x="578.10" y="1153.35" width="145.70" height="40.65" fill="none" stroke="#404040" stroke-width="1.2"/>
<rect x="591.5" y="1158.35" width="4" height="3.5" fill="#8f0000"/>
<text x="605.50" y="1164.65" font-size="10.1" textLength="36.40" lengthAdjust="spacingAndGlyphs" fill="#222" style="white-space:pre">Observed</text>
<line x1="584.8" y1="1170.15" x2="601.8" y2="1170.15" stroke="#0000ff" stroke-width="1.5"/>
<text x="605.80" y="1175.80" font-size="10.1" textLength="52.40" lengthAdjust="spacingAndGlyphs" fill="#222" style="white-space:pre">1975.0-1996.0</text>
<text x="660.10" y="1175.80" font-size="10.1" textLength="16.30" lengthAdjust="spacingAndGlyphs" fill="#222" style="white-space:pre">APC</text>
<rect x="682.1" y="1172.00" width="3.7" height="1.1" fill="#2a2a2a"/><rect x="682.1" y="1173.80" width="3.7" height="1.1" fill="#2a2a2a"/>
<text x="690.40" y="1175.80" font-size="10.1" textLength="15.20" lengthAdjust="spacingAndGlyphs" fill="#222" style="white-space:pre">2.04</text>
<ellipse cx="707.6" cy="1170.00" rx="1.4" ry="1.0" fill="#111"/>
<line x1="584.8" y1="1180.62" x2="601.8" y2="1180.62" stroke="#1f6b1f" stroke-width="1.5"/>
<text x="605.80" y="1186.27" font-size="10.1" textLength="52.40" lengthAdjust="spacingAndGlyphs" fill="#222" style="white-space:pre">1996.0-2016.0</text>
<text x="660.10" y="1186.27" font-size="10.1" textLength="16.30" lengthAdjust="spacingAndGlyphs" fill="#222" style="white-space:pre">APC</text>
<rect x="682.1" y="1182.00" width="3.7" height="1.1" fill="#2a2a2a"/><rect x="682.1" y="1183.80" width="3.7" height="1.1" fill="#2a2a2a"/>
<text x="688.60" y="1186.27" font-size="10.1" textLength="17.50" lengthAdjust="spacingAndGlyphs" fill="#222" style="white-space:pre">-0.83</text>
<ellipse cx="707.6" cy="1180.47" rx="1.4" ry="1.0" fill="#111"/>
<ellipse cx="3.2" cy="1636.65" rx="1.45" ry="1.0" fill="#111"/>
<text x="6.90" y="1641.75" font-size="9.3" textLength="393.70" lengthAdjust="spacingAndGlyphs" fill="#222" style="white-space:pre">Indicates that the Annual Percent Change (APC) is significantly different from zero at the alpha = 0.05 level.</text>
<text x="2.30" y="1650.50" font-size="9.3" textLength="124.80" lengthAdjust="spacingAndGlyphs" fill="#222" style="white-space:pre">Final Selected Model: 1 Joinpoint.</text>
</svg>
</body></html>
